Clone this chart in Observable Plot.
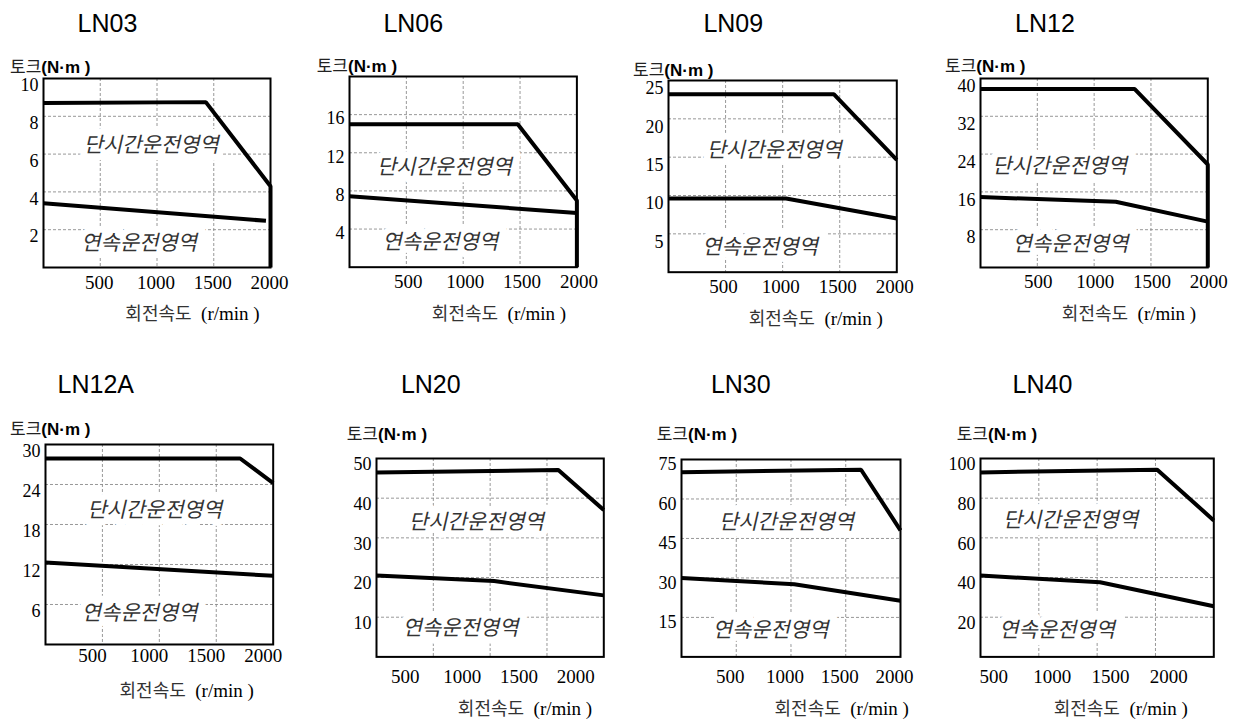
<!DOCTYPE html>
<html><head><meta charset="utf-8">
<script src="https://cdn.jsdelivr.net/npm/d3@7"></script>
<script src="https://cdn.jsdelivr.net/npm/@observablehq/plot@0.6"></script>
<style>
html,body{margin:0;padding:0;background:#fff;}
#chart{position:relative;width:1244px;height:720px;overflow:hidden;background:#fff;}
.lbl{position:absolute;white-space:nowrap;line-height:1;}
svg text{paint-order:stroke;}
</style></head><body><div id="chart"></div>
<script>
// ---------- data ----------
const models = ["LN03","LN06","LN09","LN12","LN12A","LN20","LN30","LN40"];
const speedTicks = [500,1000,1500,2000];
const gridSpeeds = [500,1000,1500];
const torqueMax = [10,20,25,40,30,50,75,100];
const torqueTicks = [[2,4,6,8,10],[4,8,12,16],[5,10,15,20,25],[8,16,24,32,40],[6,12,18,24,30],[10,20,30,40,50],[15,30,45,60,75],[20,40,60,80,100]];
const peakSpeed = [[0,1430,2000,2000],[0,1480,2000,2000],[0,1450,2000],[0,1355,2000,2000],[0,1710,2000],[0,1600,2000],[0,1640,2000],[0,1515,2000]];
const peakTorque = [[8.7,8.75,4.3,0],[15.0,15.0,7.0,0],[23.2,23.2,14.65],[37.8,37.8,21.8,0],[27.9,27.9,24.2],[46.5,47.1,37.0],[70.2,71.1,48.1],[93.0,94.3,68.8]];
const contSpeed = [[0,1960],[0,2000],[0,1030,2000],[0,1190,2000],[0,2000],[0,1035,2000],[0,1030,2000],[0,1025,2000]];
const contTorque = [[3.4,2.47],[7.44,5.68],[9.6,9.6,7.0],[14.9,13.9,9.7],[12.3,10.3],[20.5,19.1,15.5],[30.0,27.6,21.3],[41.0,37.6,25.5]];
const regionNames = ["단시간운전영역","연속운전영역"];
const yTitle = ["토크","(N·m )"];
const xTitle = ["회전속도","(r/min )"];

// ---------- layout (pixels / anchors) ----------
const frames = [[43,78,270,267],[349.3,76,576.7,266.7],[667.7,80,896,271.7],[980,77.7,1207.3,266.7],
                [45,444.3,272.7,644.3],[376,458.3,603.3,656.7],[681,459.3,900,656.7],[980,458.3,1213.3,656.7]];
const titlePos = [[107.5,22.5],[413.3,22.5],[733.3,23],[1045,22.5],[95.8,384],[430.8,384],[740.8,384],[1042.5,384]];
const yTitlePos = [[10,66],[316.7,65],[633,69],[945,65],[10,427.5],[346.7,432.5],[656.7,432.5],[956.7,432.5]];
const xTitlePos = [[192.5,313.3],[499,313.3],[815.8,318.3],[1129,313.3],[186.7,690],[525,708.3],[841.7,708.3],[1120.8,708.3]];
const xTickDx = [-1,2,-2,1,-10,-28,-6,-45];
const xTickDy = [21.5,21,21,21,18,26,26,26];
const yTickDy = [7,4,8,8,7,6,5,6];
const peakLabelAt = [[963,6.45],[849,10.5],[940,15.87],[711,21.45],[973,20.1],[893,34.0],[973,51.3],[786,68.9]];
const contLabelAt = [[857,1.3],[813,2.63],[816,3.26],[807,4.93],[841,4.65],[754,7.15],[828,10.1],[671,13.5]];

const chart = document.getElementById("chart");
const serif = "Liberation Serif";
const kr = "Noto Sans CJK KR";

models.forEach((m, i) => {
  const [l, t, r, b] = frames[i];
  const mL = 50, mR = 14, mT = 12, mB = 40;
  const peak = peakSpeed[i].map((s, k) => ({s, t: peakTorque[i][k]}));
  const cont = contSpeed[i].map((s, k) => ({s, t: contTorque[i][k]}));
  const regions = [
    {x: peakLabelAt[i][0], y: peakLabelAt[i][1], t: regionNames[0]},
    {x: contLabelAt[i][0], y: contLabelAt[i][1], t: regionNames[1]}
  ];
  const grid = {stroke: "#8c8c8c", strokeWidth: 0.9, strokeDasharray: "3,2"};
  const svg = Plot.plot({
    width: (r - l) + mL + mR,
    height: (b - t) + mT + mB,
    marginLeft: mL, marginRight: mR, marginTop: mT, marginBottom: mB,
    x: {domain: [0, 2000], axis: null},
    y: {domain: [0, torqueMax[i]], axis: null},
    style: {background: "transparent", overflow: "visible"},
    marks: [
      Plot.ruleX(gridSpeeds, {x: d => d, ...grid}),
      Plot.ruleY(torqueTicks[i].filter(v => v < torqueMax[i]), {y: d => d, ...grid}),
      Plot.text(regions, {x: "x", y: "y", text: "t", fontSize: 21,
        fontFamily: kr, fill: "#333", stroke: "white", strokeWidth: 14, strokeLinejoin: "round"}),
      Plot.line(peak, {x: "s", y: "t", stroke: "black", strokeWidth: 4, strokeLinejoin: "miter", strokeLinecap: "butt"}),
      Plot.line(cont, {x: "s", y: "t", stroke: "black", strokeWidth: 4, strokeLinejoin: "miter", strokeLinecap: "butt"}),
      Plot.frame({stroke: "black", strokeWidth: 2}),
      Plot.text(speedTicks, {x: d => d, text: d => String(d), frameAnchor: "bottom", dy: xTickDy[i], dx: xTickDx[i],
        fontSize: 19, fontFamily: serif, fill: "black"}),
      Plot.text(torqueTicks[i], {y: d => d, text: d => String(d), frameAnchor: "left", textAnchor: "end", dx: -5, dy: yTickDy[i],
        fontSize: 18, fontFamily: serif, fill: "black"})
    ]
  });
  svg.style.position = "absolute";
  svg.style.left = (l - mL) + "px";
  svg.style.top = (t - mT) + "px";
  chart.appendChild(svg);
  // slant the region labels (the CJK font has no italic face)
  const groups = svg.querySelectorAll('g[aria-label="text"]');
  if (groups[0]) groups[0].querySelectorAll("text").forEach(tx => {
    const tr = tx.getAttribute("transform") || "";
    tx.setAttribute("transform", tr + " skewX(-13)");
  });

  const title = document.createElement("div");
  title.className = "lbl";
  title.textContent = m;
  Object.assign(title.style, {left: titlePos[i][0] + "px", top: titlePos[i][1] + "px",
    transform: "translate(-50%,-50%)", fontFamily: "'Liberation Sans', Arial, sans-serif", fontSize: "25px", color: "#000"});
  chart.appendChild(title);

  const yt = document.createElement("div");
  yt.className = "lbl";
  yt.innerHTML = `<span style="font-family:'Noto Sans CJK KR';font-size:17px;color:#222">${yTitle[0]}</span><span style="font-family:'Liberation Sans',Arial,sans-serif;font-weight:bold;font-size:17px">${yTitle[1]}</span>`;
  Object.assign(yt.style, {left: yTitlePos[i][0] + "px", top: yTitlePos[i][1] + "px", transform: "translateY(-50%)"});
  chart.appendChild(yt);

  const xt = document.createElement("div");
  xt.className = "lbl";
  xt.innerHTML = `<span style="font-family:'Noto Sans CJK KR';font-size:18px;color:#333">${xTitle[0]}</span><span style="font-family:'Liberation Serif',serif;font-size:19px">&nbsp;&nbsp;${xTitle[1]}</span>`;
  Object.assign(xt.style, {left: xTitlePos[i][0] + "px", top: xTitlePos[i][1] + "px", transform: "translate(-50%,-50%)"});
  chart.appendChild(xt);
});
</script>
</body></html>
